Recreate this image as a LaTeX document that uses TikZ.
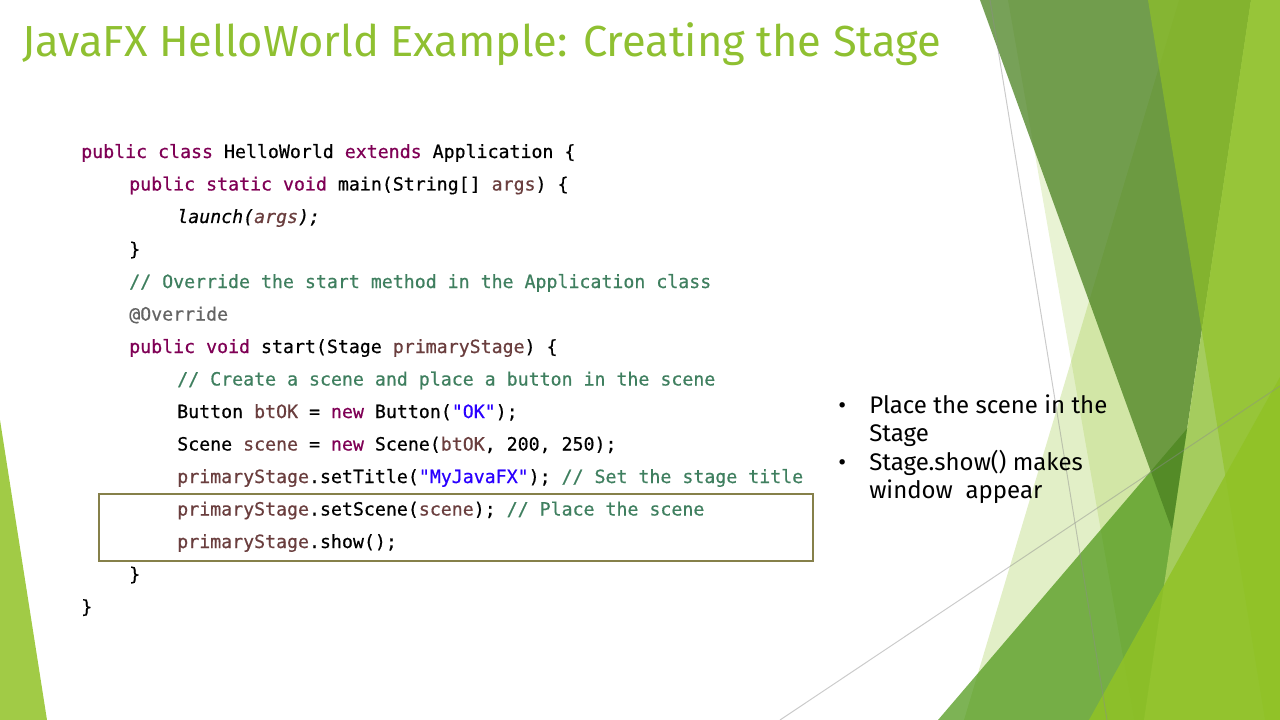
\documentclass[tikz,border=0pt]{standalone}
\usepackage{fontspec}
\setmainfont{Fira Sans}
\setmonofont[FakeBold=0.6]{DejaVu Sans Mono}
\definecolor{acc}{HTML}{90C226}
\definecolor{titlec}{HTML}{8FC031}
\definecolor{cthree}{HTML}{4B9614}
\definecolor{cfour}{HTML}{4A8120}
\definecolor{cfive}{HTML}{A5CC5E}
\definecolor{linec}{HTML}{8C8C8C}
\definecolor{kwc}{HTML}{7F0055}
\definecolor{varc}{HTML}{6A3E3E}
\definecolor{cmc}{HTML}{3F7F5F}
\definecolor{strc}{HTML}{2A00FF}
\definecolor{annc}{HTML}{646464}
\definecolor{boxc}{HTML}{86804A}
\newcommand\jkw[1]{\textcolor{kwc}{#1}}
\newcommand\jvar[1]{\textcolor{varc}{#1}}
\newcommand\jcm[1]{\textcolor{cmc}{#1}}
\newcommand\jstr[1]{\textcolor{strc}{#1}}
\newcommand\jann[1]{\textcolor{annc}{#1}}
\tikzset{
  codeline/.style={anchor=base west, inner sep=0pt, font=\ttfamily\fontsize{13.68}{16}\selectfont},
  bullettext/.style={anchor=base west, inner sep=0pt, font=\fontsize{18}{22}\selectfont},
  titletext/.style={anchor=base west, inner sep=0pt, text=titlec, font=\fontsize{32.6}{38}\selectfont},
  guide/.style={draw=linec, opacity=0.45, line width=0.75pt},
  hibox/.style={draw=boxc, line width=1.5pt}
}
\begin{document}
\begin{tikzpicture}[x=0.75pt,y=-0.75pt]
\useasboundingbox (0,0) rectangle (1280,720);
% decorative facets
\fill[acc, opacity=0.2] (1008,0) -- (1280,0) -- (1280,720) -- (1134,720) -- cycle;
\fill[acc, opacity=0.26] (1179,0) -- (1280,0) -- (1280,720) -- (964,720) -- cycle;
\fill[cthree, opacity=0.72] (1280,320) -- (938,720) -- (1280,720) -- cycle;
\fill[cfour, opacity=0.75] (980,0) -- (1251,0) -- (1172,530) -- cycle;
\fill[cfive] (1251,0) -- (1280,0) -- (1280,720) -- (1144,720) -- cycle;
\fill[acc, opacity=0.65] (1148,0) -- (1280,0) -- (1280,720) -- (1265,720) -- cycle;
\fill[acc, opacity=0.85] (1280,377) -- (1089,720) -- (1280,720) -- cycle;
\fill[acc, opacity=0.85] (0,420) -- (47,720) -- (0,720) -- cycle;
% thin guide lines
\coordinate (g1a) at (990,0);
\coordinate (g1b) at (1107,720);
\coordinate (g2a) at (780,720);
\coordinate (g2b) at (1280,386);
\draw[guide] (g1a) -- (g1b);
\draw[guide] (g2a) -- (g2b);
% title
\node[titletext] (title) at (22,57) {JavaFX HelloWorld Example: Creating the Stage};
% code
\node[codeline] (l1) at (81,158) {\jkw{public} \jkw{class} HelloWorld \jkw{extends} Application \{};
\node[codeline] (l2) at (129,190.5) {\jkw{public} \jkw{static} \jkw{void} main(String[] \jvar{args}) \{};
\node[codeline] (l3) at (177,223) {\itshape launch(\jvar{args});};
\node[codeline] (l4) at (129,255.5) {\}};
\node[codeline] (l5) at (129,288) {\jcm{// Override the start method in the Application class}};
\node[codeline] (l6) at (129,320.5) {\jann{@Override}};
\node[codeline] (l7) at (129,353) {\jkw{public} \jkw{void} start(Stage \jvar{primaryStage}) \{};
\node[codeline] (l8) at (177,385.5) {\jcm{// Create a scene and place a button in the scene}};
\node[codeline] (l9) at (177,418) {Button \jvar{btOK} = \jkw{new} Button(\jstr{"OK"});};
\node[codeline] (l10) at (177,450.5) {Scene \jvar{scene} = \jkw{new} Scene(\jvar{btOK}, 200, 250);};
\node[codeline] (l11) at (177,483) {\jvar{primaryStage}.setTitle(\jstr{"MyJavaFX"}); \jcm{// Set the stage title}};
\node[codeline] (l12) at (177,515.5) {\jvar{primaryStage}.setScene(\jvar{scene}); \jcm{// Place the scene}};
\node[codeline] (l13) at (177,548) {\jvar{primaryStage}.show();};
\node[codeline] (l14) at (129,580.5) {\}};
\node[codeline] (l15) at (81,613) {\}};
% highlight box
\draw[hibox] (99,494) rectangle (813,561);
% bullets
\node[bullettext] (d1) at (838,413) {\textbullet};
\node[bullettext] (b1) at (869,413) {Place the scene in the};
\node[bullettext] (b1b) at (869,441.5) {Stage};
\node[bullettext] (d2) at (838,470) {\textbullet};
\node[bullettext] (b2) at (869,470) {Stage.show() makes};
\node[bullettext] (b2b) at (869,498.5) {window\ \ appear};
\end{tikzpicture}
\end{document}
